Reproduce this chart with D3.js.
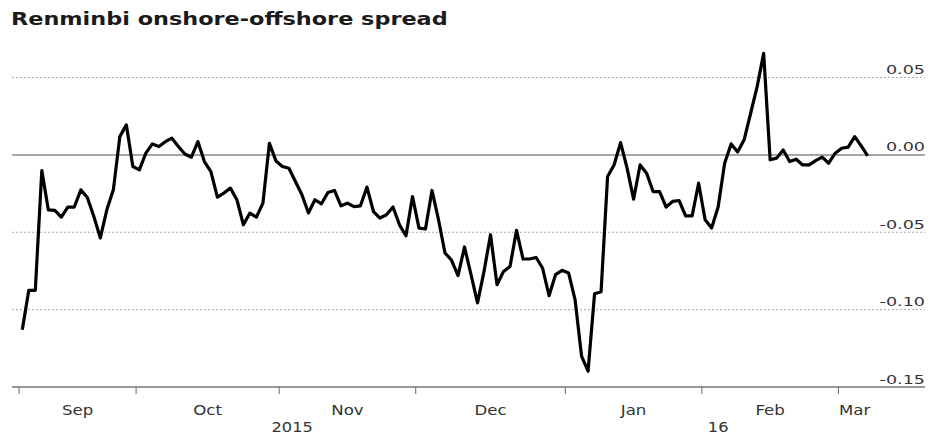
<!DOCTYPE html>
<html>
<head>
<meta charset="utf-8">
<script src="https://cdnjs.cloudflare.com/ajax/libs/d3/7.8.5/d3.min.js"></script>
<style>
  body { margin: 0; background: #fff; }
  text { font-family: "DejaVu Sans", sans-serif; }
</style>
</head>
<body>
<div id="chart"></div>
<script>
// daily spread (trading days)
var spread = [
  -0.113, -0.0875, -0.0875, -0.0101, -0.0355, -0.0359, -0.0402, -0.0337, -0.0337, -0.0226,
  -0.0275, -0.0398, -0.0537, -0.0355, -0.0226, 0.0118, 0.0194, -0.0075, -0.0097, 0.0011,
  0.0071, 0.0054, 0.0085, 0.0108, 0.0054, 0.0006, -0.0015, 0.0086, -0.0043, -0.0108,
  -0.0273, -0.0247, -0.0215, -0.029, -0.0452, -0.0376, -0.0402, -0.0312, 0.0075, -0.0039,
  -0.0075, -0.0086, -0.0172, -0.0258, -0.0376, -0.029, -0.0316, -0.0243, -0.023, -0.0329,
  -0.0312, -0.0334, -0.0329, -0.0208, -0.0366, -0.0408, -0.0387, -0.0337, -0.0452, -0.0523,
  -0.0269, -0.0473, -0.0479, -0.023, -0.0419, -0.0634, -0.068, -0.078, -0.0595, -0.0774,
  -0.0957, -0.0753, -0.0516, -0.0839, -0.0753, -0.0721, -0.0488, -0.0673, -0.0673, -0.0663,
  -0.0731, -0.091, -0.0774, -0.0746, -0.0763, -0.0935, -0.1301, -0.1398, -0.0897, -0.0884,
  -0.014, -0.0065, 0.0079, -0.0086, -0.0286, -0.0065, -0.0118, -0.0237, -0.0237, -0.0337,
  -0.0301, -0.0295, -0.0394, -0.0394, -0.0183, -0.0419, -0.0473, -0.0337, -0.0054, 0.0071,
  0.0019, 0.0097, 0.0269, 0.0441, 0.0656, -0.0032, -0.0021, 0.0032, -0.0043, -0.0028,
  -0.0065, -0.0065, -0.0037, -0.0015, -0.0054, 0.0011, 0.0043, 0.005, 0.0118, 0.0058,
  -0.0006
];

// index of the first trading day of each month
var monthStart = [0, 18, 40, 61, 84, 105, 126];
var monthLabels = ["Sep", "Oct", "Nov", "Dec", "Jan", "Feb", "Mar"];
var yearLabels = ["2015", "16"];
var yearStartMonth = [0, 4];

var yTicks = [0.05, 0, -0.05, -0.10, -0.15];

var W = 930, H = 435;
var left = 12, right = 925;

var x = d3.scaleLinear()
    .domain([0, spread.length - 1])
    .range([22.3, 867.7]);

var y = d3.scaleLinear()
    .domain([-0.15, 0.05])
    .range([387, 77.5]);

var fmt = function(d) { return d3.format(".2f")(d).replace("\u2212", "-"); };

var svg = d3.select("#chart")
    .append("svg")
    .attr("width", W)
    .attr("height", H);

// title
svg.append("text")
    .attr("transform", "translate(11,25) scale(1.21,1)")
    .attr("font-weight", "bold")
    .attr("font-size", "18.5px")
    .attr("fill", "#1a1a1a")
    .text("Renminbi onshore-offshore spread");

// gridlines
svg.selectAll("line.grid")
    .data(yTicks.filter(function(d) { return d !== 0 && d !== -0.15; }))
    .enter()
    .append("line")
    .attr("class", "grid")
    .attr("x1", left)
    .attr("x2", right)
    .attr("y1", function(d) { return y(d); })
    .attr("y2", function(d) { return y(d); })
    .attr("stroke", "#aaa")
    .attr("stroke-width", 1)
    .attr("stroke-dasharray", "2,2");

// zero line
svg.append("line")
    .attr("x1", left).attr("x2", right)
    .attr("y1", y(0)).attr("y2", y(0))
    .attr("stroke", "#888")
    .attr("stroke-width", 1.5);

// y labels, on the right, above the lines
svg.selectAll("text.ylab")
    .data(yTicks)
    .enter()
    .append("text")
    .attr("class", "ylab")
    .attr("transform", function(d) {
        return "translate(" + right + "," + (y(d) - 3.5) + ") scale(1.35,1)";
    })
    .attr("text-anchor", "end")
    .attr("font-size", "13px")
    .attr("fill", "#333")
    .text(fmt);

// x axis line
svg.append("line")
    .attr("x1", left).attr("x2", right)
    .attr("y1", y(-0.15)).attr("y2", y(-0.15))
    .attr("stroke", "#999")
    .attr("stroke-width", 2);

// month boundary ticks
var tickPos = monthStart.map(function(i) { return x(i - 0.5); });
svg.selectAll("line.tick")
    .data(tickPos)
    .enter()
    .append("line")
    .attr("class", "tick")
    .attr("x1", function(d) { return d; })
    .attr("x2", function(d) { return d; })
    .attr("y1", y(-0.15))
    .attr("y2", y(-0.15) + 7)
    .attr("stroke", "#666")
    .attr("stroke-width", 1);

var endPos = x(spread.length - 0.5);

svg.selectAll("text.month")
    .data(monthLabels)
    .enter()
    .append("text")
    .attr("class", "month")
    .attr("transform", function(d, i) {
        var a = tickPos[i], b = i + 1 < tickPos.length ? tickPos[i + 1] : endPos;
        return "translate(" + ((a + b) / 2) + ",415) scale(1.23,1)";
    })
    .attr("text-anchor", "middle")
    .attr("font-size", "13.5px")
    .attr("fill", "#333")
    .text(function(d) { return d; });

svg.selectAll("text.year")
    .data(yearLabels)
    .enter()
    .append("text")
    .attr("class", "year")
    .attr("transform", function(d, i) {
        var a = tickPos[yearStartMonth[i]];
        var b = i + 1 < yearLabels.length ? tickPos[yearStartMonth[i + 1]] : endPos;
        return "translate(" + ((a + b) / 2) + ",432) scale(1.2,1)";
    })
    .attr("text-anchor", "middle")
    .attr("font-size", "13.5px")
    .attr("fill", "#333")
    .text(function(d) { return d; });

// the series
var line = d3.line()
    .x(function(d, i) { return x(i); })
    .y(function(d) { return y(d); });

svg.append("path")
    .datum(spread)
    .attr("d", line)
    .attr("fill", "none")
    .attr("stroke", "#000")
    .attr("stroke-width", 3.2)
    .attr("stroke-linejoin", "round");
</script>
</body>
</html>
